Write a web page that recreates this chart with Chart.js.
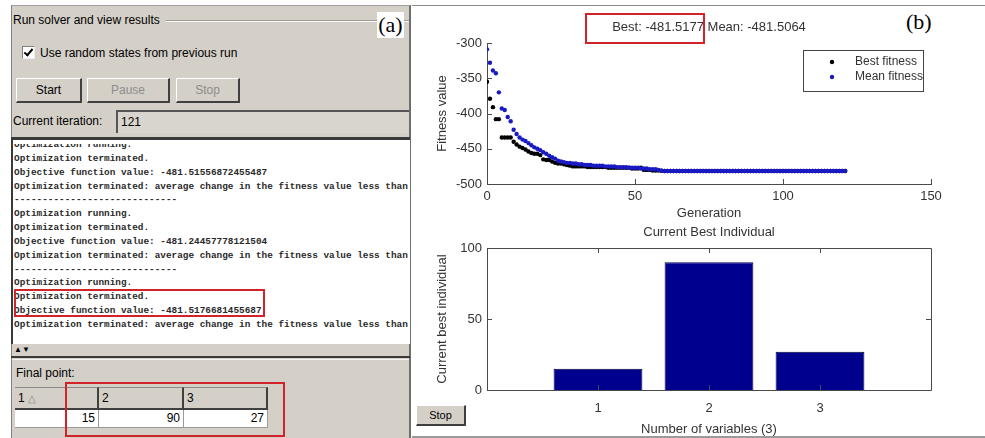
<!DOCTYPE html>
<html>
<head>
<meta charset="utf-8">
<script src="https://cdn.jsdelivr.net/npm/chart.js@4.4.1/dist/chart.umd.min.js"></script>
<style>
html, body { margin: 0; padding: 0; background: #fff; }
body { width: 985px; height: 438px; position: relative; overflow: hidden; font-family: "Liberation Sans", Arial, sans-serif; }
.abs { position: absolute; }
.t12 { font-size: 12px; color: #000; white-space: nowrap; }
.btn { position: absolute; background: #d4d0c8; border-top: 1px solid #fff; border-left: 1px solid #fff;
       border-right: 2px solid #404040; border-bottom: 2px solid #404040; font-size: 12px; text-align: center; box-sizing: border-box; }
.red { position: absolute; border: 2px solid #d3232a; box-sizing: border-box; }
.hcell { position: absolute; top: 387px; height: 23px; background: #d4d0c8; border-top: 1px solid #8a8a8a;
         border-right: 2px solid #404040; border-bottom: 2px solid #404040; box-sizing: border-box; font-size: 12px; line-height: 20px; padding-left: 3px; }
.dcell { position: absolute; top: 410px; height: 18px; background: #fff; border-right: 1px solid #9a9a9a;
         border-bottom: 1px solid #9a9a9a; box-sizing: border-box; font-size: 12px; line-height: 17px; text-align: right; padding-right: 3px; }
#log { position: absolute; left: 11px; top: 137px; width: 399px; height: 207px; background: #fff; box-sizing: border-box;
       border-top: 3px solid #3a3a3a; border-left: 2px solid #3a3a3a; overflow: hidden; }
#logClip { position: absolute; left: 0; top: 4px; right: 0; bottom: 0; overflow: hidden; }
#log pre { margin: -6px 0 0 1px; font-family: "Liberation Mono", "DejaVu Sans Mono", monospace; font-size: 9.4px;
           font-weight: bold; line-height: 13.85px; color: #2a2a2a; }
canvas { position: absolute; }
</style>
</head>
<body>

<!-- (a) solver panel -->
<div class="abs" style="left:11px;top:5px;width:397px;height:433px;background:#d4d0c8;border-left:1px solid #808080;border-top:1px solid #a0a0a0;border-right:2px solid #6e6e6e;"></div>
<div class="abs t12" style="left:13px;top:13px;">Run solver and view results</div>
<div class="abs" style="left:166px;top:20px;width:243px;height:0;border-top:1px solid #9c9a94;border-bottom:1px solid #fff;"></div>
<div class="abs" style="left:377px;top:12px;width:27px;height:26px;background:#fff;font:22px 'Liberation Serif',serif;line-height:26px;text-align:center;">(a)</div>

<div class="abs" style="left:22px;top:46px;width:11px;height:11px;background:#fff;border-top:1px solid #808080;border-left:1px solid #808080;border-right:1px solid #eee;border-bottom:1px solid #eee;">
  <div class="abs" style="left:3px;top:0px;width:3px;height:7px;border-right:2px solid #000;border-bottom:2px solid #000;transform:rotate(40deg);"></div>
</div>
<div class="abs t12" style="left:40px;top:46px;">Use random states from previous run</div>

<div class="btn" style="left:16px;top:78px;width:66px;height:25px;line-height:22px;">Start</div>
<div class="btn" style="left:87px;top:78px;width:83px;height:25px;line-height:22px;color:#8c8c8c;">Pause</div>
<div class="btn" style="left:176px;top:78px;width:64px;height:25px;line-height:22px;color:#8c8c8c;">Stop</div>

<div class="abs t12" style="left:13px;top:114px;">Current iteration:</div>
<div class="abs t12" style="left:116px;top:110px;width:293px;height:23px;box-sizing:border-box;background:#d8d5ce;border-top:2px solid #555;border-left:2px solid #555;line-height:20px;padding-left:3px;">121</div>

<div id="log"><div id="logClip"><pre id="logText"></pre></div></div>
<div class="red" style="left:14px;top:289px;width:251px;height:28px;"></div>

<div class="abs" style="left:14px;top:345px;font-size:8px;line-height:10px;">&#9650;&#9660;</div>
<div class="abs" style="left:11px;top:356px;width:399px;height:2px;background:#3a3a3a;"></div>
<div class="abs" style="left:12px;top:359px;width:397px;height:1px;background:#f4f4f4;"></div>
<div class="abs t12" style="left:16px;top:366px;">Final point:</div>
<div id="table"></div>
<div class="red" style="left:65px;top:382px;width:220px;height:55px;"></div>

<!-- (b) plot panel -->
<div class="abs" style="left:412px;top:5px;width:573px;height:1px;background:#8a8a8a;"></div>
<div class="abs" style="left:412px;top:436px;width:573px;height:2px;background:#9a9a9a;"></div>
<div class="abs" style="left:906px;top:9px;font:22px 'Liberation Serif',serif;">(b)</div>
<canvas id="fitChart" width="548" height="211" style="left:435px;top:10px;"></canvas>
<canvas id="barChart" width="548" height="219" style="left:435px;top:218px;"></canvas>
<div class="red" style="left:585px;top:13px;width:120px;height:31px;"></div>
<div class="btn" style="left:416px;top:405px;width:50px;height:21px;line-height:18px;font-size:11px;">Stop</div>

<script>
// fitness per generation (index = generation 0..121)
const bestFitness = [
  -355, -379, -391, -408, -408, -434, -434, -434, -434, -440,
  -444, -447, -449, -451, -454, -456, -457, -457, -459, -465,
  -466, -466, -468, -470, -471, -471, -472, -473, -474, -475,
  -475, -475, -475, -475, -476, -476, -476, -476, -476, -476,
  -476, -477, -477, -477, -477, -477, -477, -477, -477, -478,
  -478, -478, -477, -480, -480, -480, -481, -481, -481, -481.3,
  -481.5, -481.5, -481.5, -481.5, -481.5, -481.5, -481.5, -481.5, -481.5, -481.5,
  -481.5, -481.5, -481.5, -481.5, -481.5, -481.5, -481.5, -481.5, -481.5, -481.5,
  -481.5, -481.5, -481.5, -481.5, -481.5, -481.5, -481.5, -481.5, -481.5, -481.5,
  -481.5, -481.5, -481.5, -481.5, -481.5, -481.5, -481.5, -481.5, -481.5, -481.5,
  -481.5, -481.5, -481.5, -481.5, -481.5, -481.5, -481.5, -481.5, -481.5, -481.5,
  -481.5, -481.5, -481.5, -481.5, -481.5, -481.5, -481.5, -481.5, -481.5, -481.5,
  -481.5, -481.52
];
const meanFitness = [
  -309, -328, -339, -343, -370, -393, -395, -405, -411, -423,
  -429, -434, -437, -439, -442, -445, -448, -450, -452, -455,
  -457, -460, -462, -464, -467, -468, -469, -470, -470, -471,
  -471, -472, -472, -473, -473, -473, -474, -474, -474, -474,
  -475, -475, -475, -475, -476, -476, -476, -476, -477, -477,
  -477, -477, -478, -478, -478, -479, -479, -479, -480, -481,
  -481.5, -481.5, -481.5, -481.5, -481.5, -481.5, -481.5, -481.5, -481.5, -481.5,
  -481.5, -481.5, -481.5, -481.5, -481.5, -481.5, -481.5, -481.5, -481.5, -481.5,
  -481.5, -481.5, -481.5, -481.5, -481.5, -481.5, -481.5, -481.5, -481.5, -481.5,
  -481.5, -481.5, -481.5, -481.5, -481.5, -481.5, -481.5, -481.5, -481.5, -481.5,
  -481.5, -481.5, -481.5, -481.5, -481.5, -481.5, -481.5, -481.5, -481.5, -481.5,
  -481.5, -481.5, -481.5, -481.5, -481.5, -481.5, -481.5, -481.5, -481.5, -481.5,
  -481.5, -481.51
];
const genTicks = [0, 50, 100, 150];
const fitTicks = [-500, -450, -400, -350, -300];
const fitTitle = 'Best: -481.5177 Mean: -481.5064';

const varIndex = [1, 2, 3];
const bestIndividual = [15, 90, 27];
const indTicks = [0, 50, 100];

const logLines = [
  'Optimization running.',
  'Optimization terminated.',
  'Objective function value: -481.51556872455487',
  'Optimization terminated: average change in the fitness value less than',
  '-----------------------------',
  'Optimization running.',
  'Optimization terminated.',
  'Objective function value: -481.24457778121504',
  'Optimization terminated: average change in the fitness value less than',
  '-----------------------------',
  'Optimization running.',
  'Optimization terminated.',
  'Objective function value: -481.5176681455687',
  'Optimization terminated: average change in the fitness value less than'
];
document.getElementById('logText').textContent = logLines.join('\n');

// final point table
const cols = [[15, 84], [99, 85], [184, 84]];
let html = '';
cols.forEach((c, i) => {
  const head = i === 0 ? '1 <span style="color:#888;font-size:10px">&#9651;</span>' : String(varIndex[i]);
  html += '<div class="hcell" style="left:' + c[0] + 'px;width:' + c[1] + 'px;">' + head + '</div>';
  html += '<div class="dcell" style="left:' + c[0] + 'px;width:' + c[1] + 'px;">' + bestIndividual[i] + '</div>';
});
document.getElementById('table').innerHTML = html;

Chart.defaults.font.family = '"Liberation Sans", Arial, sans-serif';
Chart.defaults.font.size = 13;
Chart.defaults.color = '#333';

const axisColor = '#4a4a4a';

// MATLAB style ticks pointing into the axes
const inwardTicks = {
  id: 'inwardTicks',
  afterDatasetsDraw(chart, args, opts) {
    const { ctx, chartArea: a, scales: { x, y } } = chart;
    const len = 5;
    ctx.save();
    ctx.strokeStyle = axisColor;
    ctx.lineWidth = 1;
    ctx.beginPath();
    x.ticks.forEach(t => {
      const px = Math.round(x.getPixelForValue(t.value)) + 0.5;
      ctx.moveTo(px, a.bottom); ctx.lineTo(px, a.bottom - len);
      if (opts.box) { ctx.moveTo(px, a.top); ctx.lineTo(px, a.top + len); }
    });
    y.ticks.forEach(t => {
      const py = Math.round(y.getPixelForValue(t.value)) + 0.5;
      ctx.moveTo(a.left, py); ctx.lineTo(a.left + len, py);
      if (opts.box) { ctx.moveTo(a.right, py); ctx.lineTo(a.right - len, py); }
    });
    if (opts.box) ctx.rect(Math.round(a.left) + 0.5, Math.round(a.top) + 0.5, Math.round(a.width), Math.round(a.height));
    ctx.stroke();
    ctx.restore();
  }
};

// boxed legend inside the axes, top right
const boxLegend = {
  id: 'boxLegend',
  afterDraw(chart) {
    const { ctx, chartArea: a } = chart;
    const w = 120, h = 41;
    const x0 = Math.round(a.right - 8 - w), y0 = Math.round(a.top + 7);
    ctx.save();
    ctx.fillStyle = '#fff';
    ctx.fillRect(x0, y0, w, h);
    ctx.strokeStyle = '#444';
    ctx.lineWidth = 1;
    ctx.strokeRect(x0 + 0.5, y0 + 0.5, w, h);
    ctx.font = '12px "Liberation Sans", Arial, sans-serif';
    ctx.textBaseline = 'middle';
    chart.data.datasets.forEach((ds, i) => {
      const cy = y0 + 12 + i * 15;
      ctx.fillStyle = ds.backgroundColor;
      ctx.beginPath();
      ctx.arc(x0 + 29, cy, 2.2, 0, Math.PI * 2);
      ctx.fill();
      ctx.fillStyle = '#333';
      ctx.fillText(ds.label, x0 + 52, cy);
    });
    ctx.restore();
  }
};

new Chart(document.getElementById('fitChart'), {
  type: 'scatter',
  data: {
    datasets: [
      { label: 'Best fitness', data: bestFitness.map((v, i) => ({ x: i, y: v })),
        backgroundColor: '#000', borderColor: '#000', pointRadius: 2.2, pointBorderWidth: 0, order: 2 },
      { label: 'Mean fitness', data: meanFitness.map((v, i) => ({ x: i, y: v })),
        backgroundColor: '#1a1ac4', borderColor: '#1a1ac4', pointRadius: 2.2, pointBorderWidth: 0, order: 1 }
    ]
  },
  options: {
    responsive: false,
    animation: false,
    events: [],
    layout: { padding: { left: 0, right: 52, top: 0, bottom: 0 } },
    plugins: {
      legend: { display: false },
      tooltip: { enabled: false },
      title: { display: true, text: fitTitle, fullSize: false, color: '#333',
               font: { size: 13, weight: 'normal' }, padding: { top: 9.2, bottom: 8.2 } },
      inwardTicks: { box: false }
    },
    scales: {
      x: {
        type: 'linear', min: 0, max: 150,
        afterBuildTicks: s => { s.ticks = genTicks.map(v => ({ value: v })); },
        afterFit: s => { s.height = 37; },
        grid: { display: false, drawTicks: false },
        border: { display: true, color: axisColor },
        ticks: { padding: 5, color: '#333' },
        title: { display: true, text: 'Generation', color: '#333', padding: 0 }
      },
      y: {
        min: -500, max: -300,
        afterBuildTicks: s => { s.ticks = fitTicks.map(v => ({ value: v })); },
        afterFit: s => { s.width = 52; },
        grid: { display: false, drawTicks: false },
        border: { display: true, color: axisColor },
        ticks: { padding: 5, color: '#333' },
        title: { display: true, text: 'Fitness value', color: '#333', padding: 0 }
      }
    }
  },
  plugins: [inwardTicks, boxLegend]
});

new Chart(document.getElementById('barChart'), {
  type: 'bar',
  data: {
    datasets: [{
      label: 'Current best individual',
      data: varIndex.map((v, i) => ({ x: v, y: bestIndividual[i] })),
      backgroundColor: '#00008f', borderColor: '#00003a', borderWidth: 1,
      barPercentage: 0.8, categoryPercentage: 1
    }]
  },
  options: {
    responsive: false,
    animation: false,
    events: [],
    layout: { padding: { left: 0, right: 52, top: 0, bottom: 0 } },
    plugins: {
      legend: { display: false },
      tooltip: { enabled: false },
      title: { display: true, text: 'Current Best Individual', fullSize: false, color: '#333',
               font: { size: 13, weight: 'normal' }, padding: { top: 6.2, bottom: 8.2 } },
      inwardTicks: { box: true }
    },
    scales: {
      x: {
        type: 'linear', min: 0, max: 4, offset: false,
        afterBuildTicks: s => { s.ticks = varIndex.map(v => ({ value: v })); },
        afterFit: s => { s.height = 47; },
        grid: { display: false, drawTicks: false, offset: false },
        border: { display: false },
        ticks: { padding: 11, color: '#333' },
        title: { display: true, text: 'Number of variables (3)', color: '#333', padding: 0 }
      },
      y: {
        min: 0, max: 100,
        afterBuildTicks: s => { s.ticks = indTicks.map(v => ({ value: v })); },
        afterFit: s => { s.width = 52; },
        grid: { display: false, drawTicks: false },
        border: { display: false },
        ticks: { padding: 5, color: '#333' },
        title: { display: true, text: 'Current best individual', color: '#333', padding: 0 }
      }
    }
  },
  plugins: [inwardTicks]
});
</script>
</body>
</html>
